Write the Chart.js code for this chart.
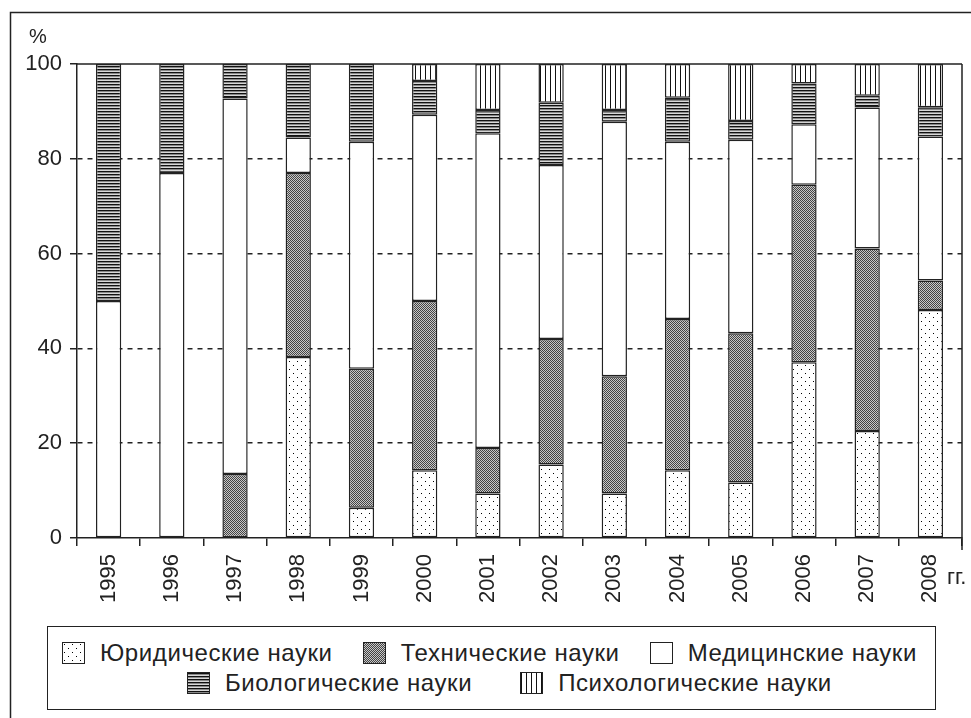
<!DOCTYPE html>
<html>
<head>
<meta charset="utf-8">
<script src="https://cdn.jsdelivr.net/npm/chart.js@4.4.1/dist/chart.umd.min.js"></script>
<style>
  body { margin: 0; background: #fff; }
  #wrap { position: relative; width: 971px; height: 718px; overflow: hidden; }
  #chart { position: absolute; left: 0; top: 0; }
  #legend {
    position: absolute; left: 47px; top: 626px; width: 887px; height: 82px;
    border: 1.5px solid #222; background: #fff;
    font-family: "Liberation Sans", Arial, sans-serif; font-size: 24px; color: #222;
    letter-spacing: 0.6px;
  }
  .row { position: absolute; display: flex; align-items: center; white-space: nowrap; }
  .item { display: flex; align-items: center; }
  .sw { width: 21px; height: 20px; border: 1.5px solid #222; margin-right: 15px; }
</style>
</head>
<body>
<div id="wrap">
  <canvas id="chart" width="971" height="718"></canvas>
  <div id="legend"></div>
</div>
<script>
// data (percent of total, by year)
var years = ["1995", "1996", "1997", "1998", "1999", "2000", "2001", "2002", "2003", "2004", "2005", "2006", "2007", "2008"];
var legal = [0, 0, 0, 38.2, 6.4, 14.3, 9.4, 15.5, 9.4, 14.3, 11.7, 37.1, 22.6, 48.1];
var technical = [0, 0, 13.5, 38.8, 29.3, 35.7, 9.6, 26.5, 24.7, 31.9, 31.5, 37.4, 38.5, 6.2];
var medical = [50, 77, 79.2, 7.5, 47.9, 39.3, 66.4, 36.7, 53.7, 37.4, 40.8, 12.8, 29.7, 30.4];
var biological = [50, 23, 7.3, 15.5, 16.4, 7.1, 4.9, 13.1, 2.5, 9.3, 4.0, 8.6, 2.5, 6.2];
var psychological = [0, 0, 0, 0, 0, 3.6, 9.7, 8.2, 9.7, 7.1, 12.0, 4.1, 6.7, 9.1];
var yTicks = [0, 20, 40, 60, 80, 100];
var seriesNames = ["Юридические науки", "Технические науки", "Медицинские науки", "Биологические науки", "Психологические науки"];

var FONT = "'Liberation Sans', Arial, sans-serif";
var INK = "#222";

// small tiles for the hatch fills
function makeTile(w, h, paint) {
  var c = document.createElement("canvas");
  c.width = w;
  c.height = h;
  var g = c.getContext("2d");
  g.fillStyle = "#fff";
  g.fillRect(0, 0, w, h);
  paint(g);
  return c;
}

var tiles = [
  makeTile(8, 8, function (g) {
    g.fillStyle = "#000";
    g.fillRect(1, 1, 1, 1);
    g.fillRect(5, 5, 1, 1);
  }),
  makeTile(2, 2, function (g) {
    g.fillStyle = "#c8c8c8";
    g.fillRect(0, 0, 2, 2);
    g.fillStyle = "#444";
    g.fillRect(0, 0, 1, 1);
    g.fillRect(1, 1, 1, 1);
  }),
  makeTile(4, 4, function (g) {}),
  makeTile(3, 3, function (g) {
    g.fillStyle = "#111";
    g.fillRect(0, 0, 3, 1);
    g.fillStyle = "#888";
    g.fillRect(0, 1, 3, 1);
    g.fillStyle = "#d8d8d8";
    g.fillRect(0, 2, 3, 1);
  }),
  makeTile(5, 5, function (g) {
    g.fillStyle = "#111";
    g.fillRect(0, 0, 1, 5);
  }),
];

var cv = document.getElementById("chart");
var ctx = cv.getContext("2d");
var patterns = tiles.map(function (t) {
  return ctx.createPattern(t, "repeat");
});

var seriesData = [legal, technical, medical, biological, psychological];
var datasets = seriesData.map(function (vals, i) {
  return {
    label: seriesNames[i],
    // empty segments are left out so no zero-height outline shows
    data: vals.map(function (v) {
      return v === 0 ? null : v;
    }),
    backgroundColor: patterns[i],
    borderColor: INK,
    borderWidth: 1.5,
    borderSkipped: false,
    barPercentage: 0.4,
    categoryPercentage: 1,
  };
});

// frame, plot box, "%" and "гг."
var decorations = {
  id: "decorations",
  afterDatasetsDraw(chart) {
    var a = chart.chartArea;
    var c = chart.ctx;
    c.save();
    c.strokeStyle = INK;
    c.lineWidth = 1.5;
    c.beginPath();
    c.moveTo(a.left, a.top);
    c.lineTo(a.right, a.top);
    c.moveTo(a.right, a.top);
    c.lineTo(a.right, a.bottom + 12);
    c.stroke();
    c.beginPath();
    c.moveTo(10.5, 718);
    c.lineTo(10.5, 12.5);
    c.lineTo(971, 12.5);
    c.stroke();
    c.fillStyle = INK;
    c.font = "20px " + FONT;
    c.textBaseline = "alphabetic";
    c.fillText("%", 29, 43);
    c.font = "22px " + FONT;
    c.fillText("гг.", a.right - 15, 584);
    c.restore();
  },
};

new Chart(cv, {
  type: "bar",
  data: { labels: years, datasets: datasets },
  plugins: [decorations],
  options: {
    responsive: false,
    animation: false,
    devicePixelRatio: 1,
    layout: { padding: { left: 0, top: 64, right: 9, bottom: 0 } },
    plugins: {
      legend: { display: false },
      tooltip: { enabled: false },
    },
    scales: {
      x: {
        stacked: true,
        offset: true,
        grid: {
          offset: true,
          drawOnChartArea: false,
          color: INK,
          lineWidth: 1.5,
          tickLength: 8,
        },
        border: { color: INK, width: 1.5 },
        ticks: {
          autoSkip: false,
          minRotation: 90,
          maxRotation: 90,
          padding: 8,
          color: INK,
          font: { family: FONT, size: 22 },
        },
        afterFit(scale) {
          scale.height = 180;
        },
      },
      y: {
        stacked: true,
        min: 0,
        max: 100,
        afterBuildTicks(scale) {
          scale.ticks = yTicks.map(function (v) {
            return { value: v };
          });
        },
        grid: {
          color: function (c) {
            return c.tick && (c.tick.value === 0 || c.tick.value === 100) ? "rgba(0,0,0,0)" : INK;
          },
          tickColor: INK,
          lineWidth: 1.5,
          tickLength: 7,
          tickBorderDash: [],
        },
        border: { color: INK, width: 1.5, dash: [5, 5] },
        ticks: {
          padding: 8,
          color: INK,
          font: { family: FONT, size: 22 },
        },
        afterFit(scale) {
          scale.width = 77;
        },
      },
    },
  },
});

// legend box under the chart
var legend = document.getElementById("legend");
var rows = [
  { idx: [0, 1, 2], left: 14, top: 12, gap: 30 },
  { idx: [3, 4], left: 139, top: 42, gap: 48 },
];
rows.forEach(function (r) {
  var row = document.createElement("div");
  row.className = "row";
  row.style.left = r.left + "px";
  row.style.top = r.top + "px";
  row.style.gap = r.gap + "px";
  r.idx.forEach(function (i) {
    var item = document.createElement("div");
    item.className = "item";
    var sw = document.createElement("span");
    sw.className = "sw";
    sw.style.backgroundImage = "url(" + tiles[i].toDataURL() + ")";
    var tx = document.createElement("span");
    tx.textContent = seriesNames[i];
    item.appendChild(sw);
    item.appendChild(tx);
    row.appendChild(item);
  });
  legend.appendChild(row);
});
</script>
</body>
</html>
